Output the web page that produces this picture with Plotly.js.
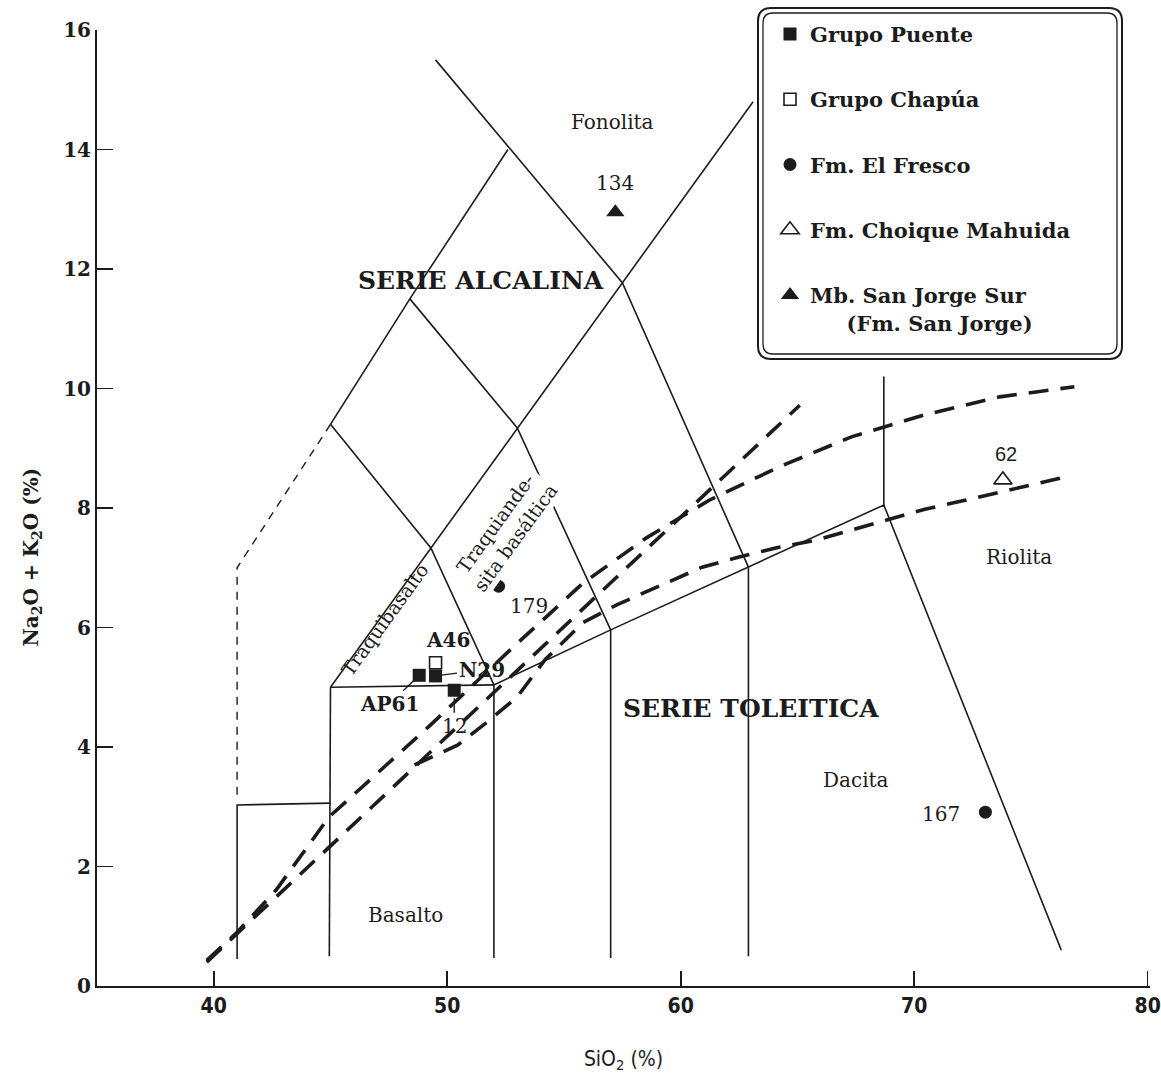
<!DOCTYPE html>
<html>
<head>
<meta charset="utf-8">
<script src="https://cdn.plot.ly/plotly-3.0.1.min.js"></script>
<style>
  html, body { margin: 0; padding: 0; background: #fff; }
  #chart { width: 1161px; height: 1077px; }
</style>
</head>
<body>
<div id="chart"></div>
<script>
// ---------------- DATA ----------------
// Solid TAS field boundaries (SiO2 %, Na2O+K2O %)
const picroX = [41.0, 41.0, 45.0];          const picroY = [0.45, 3.03, 3.06];
const x45X = [44.95, 45.0];                 const x45Y = [0.5, 5.0];
const subalkX = [45.0, 52.0, 57.0, 62.9, 68.7, 76.3];
const subalkY = [5.0, 5.04, 5.96, 7.01, 8.05, 0.6];
const x52X = [52.0, 52.0];                  const x52Y = [0.47, 5.04];
const x57X = [57.0, 57.0];                  const x57Y = [0.47, 5.96];
const x63X = [62.9, 62.9];                  const x63Y = [0.5, 7.01];
const x69X = [68.7, 68.7];                  const x69Y = [8.05, 10.2];
const diagX = [45.0, 63.1];                 const diagY = [5.0, 14.8];
const tephX = [45.0, 48.4, 52.6];           const tephY = [9.4, 11.5, 14.0];
const phonoX = [49.5, 57.5, 62.9];          const phonoY = [15.5, 11.77, 7.01];
const tbX = [45.0, 49.3, 52.0];             const tbY = [9.4, 7.33, 5.04];
const btaX = [48.4, 53.0, 57.0];            const btaY = [11.5, 9.34, 5.96];
const foidX = [41.0, 41.0, 45.0];           const foidY = [3.2, 7.0, 9.4];

// Dashed alkaline / subalkaline division curves
const macdX = [39.7, 65.1];                 const macdY = [0.4, 9.72];
const irvX = [39.7, 40.98, 42.68, 44.94, 49.29, 52.82, 55.81, 58.53, 61.22, 64.23, 67.31, 70.46, 73.66, 76.86];
const irvY = [0.43, 0.89, 1.61, 2.83, 4.37, 5.67, 6.74, 7.50, 8.13, 8.69, 9.19, 9.56, 9.86, 10.03];
const kunoX = [48.6, 50.44, 51.72, 53.0, 54.19, 55.81, 57.26, 59.43, 60.92, 62.5, 64.07, 65.78, 67.27, 68.89, 70.46, 72.08, 73.7, 75.28, 76.26];
const kunoY = [3.7, 4.03, 4.42, 4.84, 5.46, 6.08, 6.38, 6.76, 7.01, 7.18, 7.33, 7.46, 7.63, 7.80, 7.98, 8.12, 8.27, 8.42, 8.50];

// Samples
const puenteX = [48.8, 49.5, 50.3];  const puenteY = [5.2, 5.19, 4.95];  const puenteLab = ['AP61', 'N29', '12'];
const chapuaX = [49.5];              const chapuaY = [5.41];             const chapuaLab = ['A46'];
const frescoX = [52.2, 73.05];       const frescoY = [6.69, 2.91];       const frescoLab = ['179', '167'];
const choiqX = [73.8];               const choiqY = [8.47];              const choiqLab = ['62'];
const sjX = [57.2];                  const sjY = [12.95];                const sjLab = ['134'];

// Field names
const fieldNames = ['Fonolita', 'Riolita', 'Dacita', 'Basalto'];
const fieldX = [57.09, 74.51, 67.52, 48.22];
const fieldY = [14.46, 7.18, 3.45, 1.19];
const seriesNames = ['SERIE ALCALINA', 'SERIE TOLEITICA'];
const seriesX = [51.46, 63.0];
const seriesY = [11.8, 4.65];

const xTicks = [40, 50, 60, 70, 80];

// ---------------- STYLE ----------------
const INK = '#1c1c1c';
const SERIF = '"DejaVu Serif", "Liberation Serif", serif';
const NARROW = '"DejaVu Sans Condensed", "Liberation Sans Narrow", "Liberation Sans", sans-serif';

function solid(x, y) {
  return { x: x, y: y, type: 'scatter', mode: 'lines', showlegend: false, hoverinfo: 'skip',
           line: { color: INK, width: 1.6 } };
}
function heavyDash(x, y) {
  return { x: x, y: y, type: 'scatter', mode: 'lines', showlegend: false, hoverinfo: 'skip',
           line: { color: INK, width: 3.6, dash: '20px,12px' } };
}

const traces = [
  solid(picroX, picroY), solid(x45X, x45Y), solid(subalkX, subalkY), solid(x52X, x52Y),
  solid(x57X, x57Y), solid(x63X, x63Y), solid(x69X, x69Y), solid(diagX, diagY),
  solid(tephX, tephY), solid(phonoX, phonoY), solid(tbX, tbY), solid(btaX, btaY),
  { x: foidX, y: foidY, type: 'scatter', mode: 'lines', showlegend: false, hoverinfo: 'skip',
    line: { color: INK, width: 1.4, dash: '8px,7px' } },
  heavyDash(macdX, macdY), heavyDash(irvX, irvY), heavyDash(kunoX, kunoY),
  { x: puenteX, y: puenteY, name: 'Grupo Puente', legendgroup: 'a', type: 'scatter', mode: 'markers',
    marker: { symbol: 'square', size: 13, color: INK } },
  { x: chapuaX, y: chapuaY, name: 'Grupo Chapúa', legendgroup: 'b', type: 'scatter', mode: 'markers',
    marker: { symbol: 'square-open', size: 12, color: INK, line: { width: 1.6 } } },
  { x: frescoX, y: frescoY, name: 'Fm. El Fresco', legendgroup: 'c', type: 'scatter', mode: 'markers',
    marker: { symbol: 'circle', size: 13, color: INK } },
  { x: choiqX, y: choiqY, name: 'Fm. Choique Mahuida', legendgroup: 'd', type: 'scatter', mode: 'markers',
    marker: { symbol: 'triangle-up-open', size: 16, color: INK, line: { width: 1.6 } } },
  { x: sjX, y: sjY, name: 'Mb. San Jorge Sur<br>&nbsp;&nbsp;&nbsp;&nbsp;&nbsp;(Fm. San Jorge)', legendgroup: 'e',
    type: 'scatter', mode: 'markers', marker: { symbol: 'triangle-up', size: 16, color: INK } }
];

// ---------------- ANNOTATIONS ----------------
const ann = [];
function ptLabel(x, y, text, opts) {
  ann.push(Object.assign({ x: x, y: y, xref: 'x', yref: 'y', text: text, showarrow: false,
    font: { family: SERIF, size: 20, color: INK } }, opts));
}
ptLabel(sjX[0], sjY[0], sjLab[0], { yshift: 29 });
ptLabel(choiqX[0], choiqY[0], choiqLab[0], { yshift: 26, xshift: 3,
  font: { family: '"Liberation Sans", Arial, sans-serif', size: 20, color: INK } });
ptLabel(frescoX[0], frescoY[0], frescoLab[0], { xshift: 30, yshift: -20 });
ptLabel(frescoX[1], frescoY[1], frescoLab[1], { xshift: -44, yshift: -2 });
ptLabel(chapuaX[0], chapuaY[0], chapuaLab[0], { xshift: 12, yshift: 23,
  font: { family: SERIF, size: 20, color: INK, weight: 'bold' } });
// labels with leader lines
ann.push({ x: puenteX[0], y: puenteY[0], xref: 'x', yref: 'y', text: puenteLab[0], showarrow: true,
  arrowhead: 0, arrowwidth: 1.4, arrowcolor: INK, ax: -30, ay: 29, standoff: 6,
  font: { family: SERIF, size: 20, color: INK, weight: 'bold' } });
ann.push({ x: puenteX[1], y: puenteY[1], xref: 'x', yref: 'y', text: puenteLab[1], showarrow: true,
  arrowhead: 0, arrowwidth: 1.4, arrowcolor: INK, ax: 46, ay: -6, standoff: 6,
  font: { family: SERIF, size: 20, color: INK, weight: 'bold' } });
ann.push({ x: puenteX[2], y: puenteY[2], xref: 'x', yref: 'y', text: puenteLab[2], showarrow: true,
  arrowhead: 0, arrowwidth: 1.4, arrowcolor: INK, ax: 0, ay: 36, standoff: 8,
  font: { family: SERIF, size: 20, color: INK } });

for (let i = 0; i < fieldNames.length; i++) {
  ann.push({ x: fieldX[i], y: fieldY[i], xref: 'x', yref: 'y', text: fieldNames[i], showarrow: false,
    font: { family: SERIF, size: 20, color: INK } });
}
for (let i = 0; i < seriesNames.length; i++) {
  ann.push({ x: seriesX[i], y: seriesY[i], xref: 'x', yref: 'y', text: seriesNames[i], showarrow: false,
    font: { family: SERIF, size: 25, color: INK, weight: 'bold' } });
}
ann.push({ x: 47.3, y: 6.13, xref: 'x', yref: 'y', text: 'Traquibasalto', showarrow: false, textangle: -54,
  font: { family: SERIF, size: 19, color: INK } });
ann.push({ x: 52.5, y: 7.62, xref: 'x', yref: 'y', text: 'Traquiande-<br>sita basáltica', showarrow: false,
  textangle: -54, bgcolor: '#ffffff', font: { family: SERIF, size: 19, color: INK } });
ann.push({ xref: 'paper', yref: 'paper', x: -0.062, y: 0.449, text: 'Na<sub>2</sub>O + K<sub>2</sub>O (%)',
  showarrow: false, textangle: -90, xanchor: 'center', yanchor: 'middle',
  font: { family: SERIF, size: 20, color: INK, weight: 'bold' } });

// ---------------- LEGEND BOX (rounded double frame) ----------------
const L = 97, T = 30, R = 11;
const PW = 1161 - L - R, PH = 1077 - T - 91;
function roundRect(x0, y0, x1, y1, r) {
  const X = px => ((px - L) / PW).toFixed(5);
  const Y = py => ((T + PH - py) / PH).toFixed(5);
  return 'M' + X(x0 + r) + ',' + Y(y0) + ' L' + X(x1 - r) + ',' + Y(y0) +
    ' Q' + X(x1) + ',' + Y(y0) + ' ' + X(x1) + ',' + Y(y0 + r) +
    ' L' + X(x1) + ',' + Y(y1 - r) +
    ' Q' + X(x1) + ',' + Y(y1) + ' ' + X(x1 - r) + ',' + Y(y1) +
    ' L' + X(x0 + r) + ',' + Y(y1) +
    ' Q' + X(x0) + ',' + Y(y1) + ' ' + X(x0) + ',' + Y(y1 - r) +
    ' L' + X(x0) + ',' + Y(y0 + r) +
    ' Q' + X(x0) + ',' + Y(y0) + ' ' + X(x0 + r) + ',' + Y(y0) + ' Z';
}
const shapes = [
  { type: 'path', xref: 'paper', yref: 'paper', path: roundRect(758, 8, 1122, 359, 13),
    line: { color: INK, width: 2 }, fillcolor: 'rgba(0,0,0,0)', layer: 'above' },
  { type: 'path', xref: 'paper', yref: 'paper', path: roundRect(763, 13, 1117, 354, 10),
    line: { color: INK, width: 1.3 }, fillcolor: 'rgba(0,0,0,0)', layer: 'above' }
];

const layout = {
  width: 1161, height: 1077,
  margin: { l: L, r: R, t: T, b: 91 },
  paper_bgcolor: '#ffffff', plot_bgcolor: '#ffffff',
  showlegend: true,
  legend: {
    x: (770 - L) / PW, y: 1.017, xanchor: 'left', yanchor: 'top',
    bgcolor: 'rgba(0,0,0,0)', borderwidth: 0,
    traceorder: 'grouped', tracegroupgap: 35, valign: 'top',
    font: { family: SERIF, size: 21, color: INK, weight: 'bold' }
  },
  xaxis: {
    range: [35, 80.1], tickvals: xTicks, ticktext: xTicks.map(String),
    ticks: 'inside', ticklen: 15, tickwidth: 1.6, tickcolor: INK,
    ticklabeloverflow: 'allow',
    showline: true, linewidth: 2, linecolor: INK, showgrid: false, zeroline: false,
    tickfont: { family: NARROW, size: 21, color: INK, weight: 'bold' },
    title: { text: 'SiO<sub>2</sub> (%)', standoff: 34,
      font: { family: NARROW, size: 21, color: INK } }
  },
  yaxis: {
    range: [0, 16], dtick: 2, tick0: 0,
    ticks: 'inside', ticklen: 16, tickwidth: 1.6, tickcolor: INK,
    showline: true, linewidth: 2, linecolor: INK, showgrid: false, zeroline: false,
    tickfont: { family: SERIF, size: 20, color: INK, weight: 'bold' },
    title: { text: '' }
  },
  annotations: ann,
  shapes: shapes
};

Plotly.newPlot('chart', traces, layout, { staticPlot: true, displayModeBar: false });
</script>
</body>
</html>
